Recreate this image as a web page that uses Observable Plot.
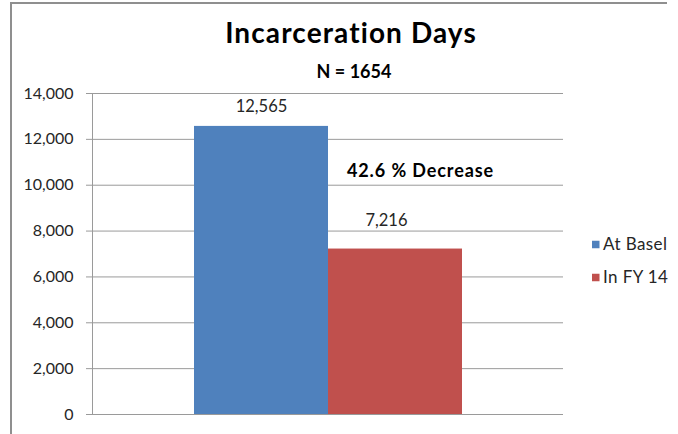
<!DOCTYPE html>
<html>
<head>
<meta charset="utf-8">
<script src="https://cdn.jsdelivr.net/npm/d3@7"></script>
<script src="https://cdn.jsdelivr.net/npm/@observablehq/plot@0.6"></script>
<style>
  html, body { margin: 0; padding: 0; background: #fff; }
  #wrap { position: relative; width: 678px; height: 434px; overflow: hidden; font-family: Lato, sans-serif; }
  #border { position: absolute; left: 10px; top: 2px; width: 655px; height: 460px;
            border-left: 2px solid #8f8f8f; border-top: 2px solid #8f8f8f; pointer-events: none; }
  #wrap svg { position: absolute; left: 0; top: 0; }
</style>
</head>
<body>
<div id="wrap"><div id="border"></div></div>
<script>
// ---- data ----
const title = "Incarceration Days";
const subtitle = "N = 1654";
const series = ["At Basel", "In FY 14"];
const values = [12565, 7216];
const colors = ["#4F81BD", "#C0504D"];
const yTicks = [0, 2000, 4000, 6000, 8000, 10000, 12000, 14000];
const annotationText = "42.6 % Decrease";
const annotationValue = 10350;

const data = series.map((s, i) => ({series: s, value: values[i]}));
const fmt = d3.format(",");

const plot = Plot.plot({
  width: 678,
  height: 434,
  marginLeft: 92,
  marginRight: 115,
  marginTop: 93,
  marginBottom: 20,
  style: {fontFamily: "Lato, sans-serif", fontSize: "16px", color: "#262626", background: "transparent"},
  x: {domain: series, paddingInner: 0, paddingOuter: 0.757, axis: null},
  y: {domain: [0, 14000], axis: null},
  color: {domain: series, range: colors},
  marks: [
    Plot.gridY(yTicks, {stroke: "#9a9a9a", strokeOpacity: 1}),
    Plot.axisY(yTicks, {tickSize: 6, tickPadding: 13, tickFormat: fmt, stroke: "#9a9a9a",
                        fill: "#262626", fontSize: 16, label: null}),
    Plot.barY(data, {x: "series", y: "value", fill: "series", inset: 0}),
    Plot.text(data.filter(d => d.series === series[0]), {x: "series", y: "value", text: d => fmt(d.value),
      lineAnchor: "bottom", dy: -14, fontSize: 16.5, fill: "#262626"}),
    Plot.text(data.filter(d => d.series === series[1]), {x: "series", y: "value", text: d => fmt(d.value),
      lineAnchor: "bottom", dy: -23, dx: -9, fontSize: 16.5, fill: "#262626"}),
    Plot.text([{series: series[1], value: annotationValue, label: annotationText}],
      {x: "series", y: "value", text: "label", lineAnchor: "bottom", dx: 25,
       fontSize: 18, fontWeight: "bold", fill: "#000"})
  ]
});

const svg = d3.select(plot);
svg.selectAll("text").filter(function() { return this.textContent === annotationText; })
  .style("letter-spacing", "0.9px");
// y axis line
svg.append("line").attr("x1", 92.5).attr("x2", 92.5).attr("y1", 93).attr("y2", 414)
  .attr("stroke", "#9a9a9a");
// title and subtitle
svg.append("text").attr("x", 351).attr("y", 43).attr("text-anchor", "middle")
  .attr("font-size", 28).attr("font-weight", "bold").attr("fill", "#000")
  .style("letter-spacing", "1.1px").text(title);
svg.append("text").attr("x", 354).attr("y", 78).attr("text-anchor", "middle")
  .attr("font-size", 18).attr("font-weight", "bold").attr("fill", "#000").text(subtitle);
// legend
const legend = svg.append("g");
series.forEach((s, i) => {
  const cy = 244.5 + i * 33;
  legend.append("rect").attr("x", 592).attr("y", cy - 3.75).attr("width", 7.5).attr("height", 7.5)
    .attr("fill", colors[i]);
  legend.append("text").attr("x", 603).attr("y", cy + 5.5).attr("font-size", 17)
    .attr("text-anchor", "start").attr("fill", "#262626").style("letter-spacing", "0.4px").text(s);
});

document.getElementById("wrap").appendChild(plot);
</script>
</body>
</html>
